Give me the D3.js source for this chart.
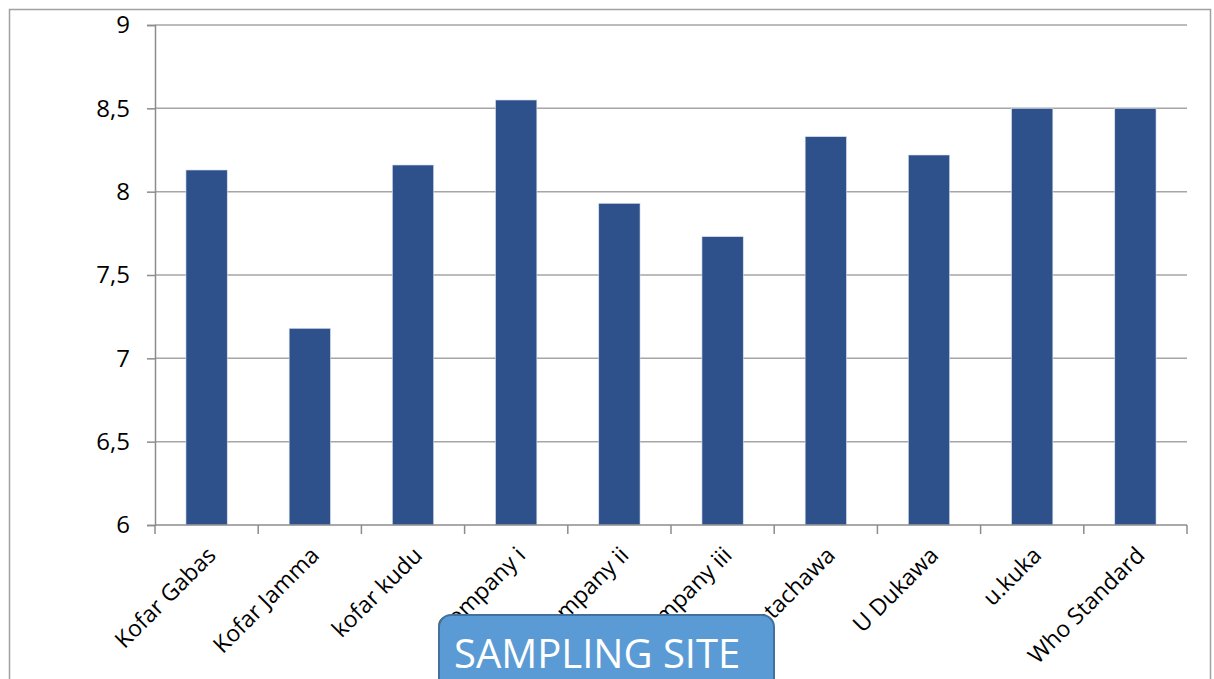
<!DOCTYPE html>
<html>
<head>
<meta charset="utf-8">
<script src="https://cdn.jsdelivr.net/npm/d3@7"></script>
<style>
  body { margin: 0; background: #fff; }
  text { font-family: 'Open Sans', sans-serif; }
</style>
</head>
<body>
<svg id="chart" width="1214" height="679"></svg>
<script>
const sites = ['Kofar Gabas', 'Kofar Jamma', 'kofar kudu', 'Company i', 'Company ii',
    'Company iii', 'Katachawa', 'U Dukawa', 'u.kuka', 'Who Standard'];
const phValues = [8.13, 7.18, 8.16, 8.55, 7.93, 7.73, 8.33, 8.22, 8.5, 8.5];
const yTicks = [6, 6.5, 7, 7.5, 8, 8.5, 9];
const axisTitle = 'SAMPLING SITE';

const svg = d3.select('#chart');

// outer chart frame (bottom is cut off in the reference)
svg.append('path')
    .attr('d', 'M9.5,690 V9.5 H1210.5 V690')
    .attr('fill', 'none')
    .attr('stroke', '#a0a0a0')
    .attr('stroke-width', 1.5);

const plot = { left: 155, right: 1187, top: 25, bottom: 525 };

const x = d3.scaleBand()
    .domain(sites)
    .range([plot.left, plot.right])
    .paddingInner(0.6)
    .paddingOuter(0.3);

const y = d3.scaleLinear()
    .domain([6, 9])
    .range([plot.bottom, plot.top]);

// gridlines
svg.append('g')
    .selectAll('line')
    .data(yTicks.filter(d => d > 6))
    .join('line')
    .attr('x1', plot.left)
    .attr('x2', plot.right)
    .attr('y1', d => y(d))
    .attr('y2', d => y(d))
    .attr('stroke', '#a6a6a6')
    .attr('stroke-width', 1.5);

// bars
svg.append('g')
    .selectAll('rect')
    .data(sites)
    .join('rect')
    .attr('x', d => x(d))
    .attr('width', x.bandwidth())
    .attr('y', (d, i) => y(phValues[i]))
    .attr('height', (d, i) => y(6) - y(phValues[i]))
    .attr('fill', '#2e518b')
    .attr('stroke', '#d8dfee')
    .attr('stroke-width', 0.6);

// y axis
const yAxis = svg.append('g')
    .attr('transform', 'translate(' + plot.left + ',0)')
    .call(d3.axisLeft(y)
        .tickValues(yTicks)
        .tickSize(8)
        .tickPadding(17)
        .tickFormat(d => String(d).replace('.', ',')));
yAxis.select('.domain').attr('stroke', '#8c8c8c').attr('stroke-width', 1.5);
yAxis.selectAll('.tick line').attr('stroke', '#8c8c8c').attr('stroke-width', 1.5);
yAxis.selectAll('.tick text')
    .attr('fill', '#000')
    .attr('font-family', null)
    .style('font-size', '24px');

// x axis: ticks at category boundaries
const step = x.step();
const boundaries = d3.range(sites.length + 1).map(i => plot.left + i * step);
const xAxis = svg.append('g');
xAxis.append('line')
    .attr('x1', plot.left).attr('x2', plot.right)
    .attr('y1', plot.bottom).attr('y2', plot.bottom)
    .attr('stroke', '#8c8c8c').attr('stroke-width', 1.5);
xAxis.selectAll('.xtick')
    .data(boundaries)
    .join('line')
    .attr('class', 'xtick')
    .attr('x1', d => d).attr('x2', d => d)
    .attr('y1', plot.bottom).attr('y2', plot.bottom + 9)
    .attr('stroke', '#8c8c8c').attr('stroke-width', 1.5);

xAxis.selectAll('.xlabel')
    .data(sites)
    .join('text')
    .attr('class', 'xlabel')
    .attr('transform', d => 'translate(' + (x(d) + x.bandwidth() / 2 + 5) + ',' + (plot.bottom + 26) + ') rotate(-45)')
    .attr('text-anchor', 'end')
    .attr('dy', '0.35em')
    .style('font-size', '23px')
    .attr('fill', '#000')
    .text(d => d);

// axis title box
const box = svg.append('g');
box.append('rect')
    .attr('x', 439)
    .attr('y', 615)
    .attr('width', 335)
    .attr('height', 90)
    .attr('rx', 12)
    .attr('fill', '#5b9bd5')
    .attr('stroke', '#41719c')
    .attr('stroke-width', 2);
box.append('text')
    .attr('x', 454)
    .attr('y', 668)
    .attr('fill', '#fff')
    .style('font-size', '40px')
    .text(axisTitle);
</script>
</body>
</html>
